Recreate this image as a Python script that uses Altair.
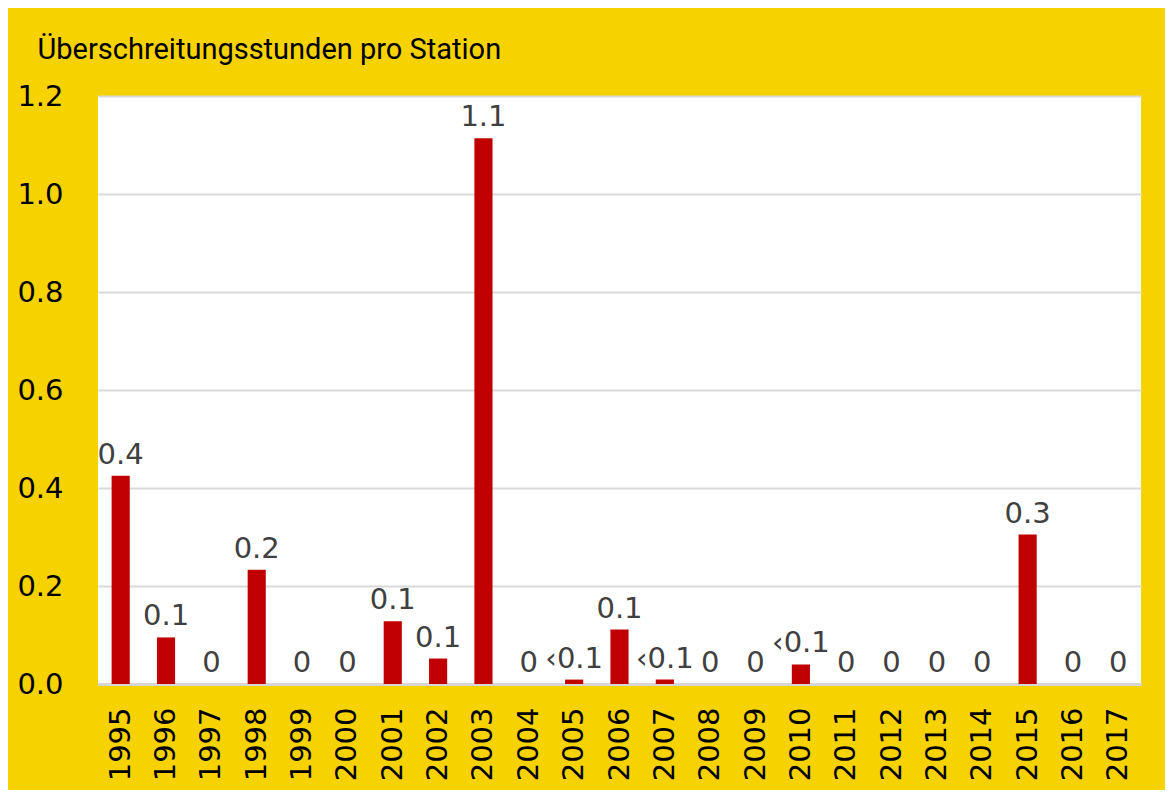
import altair as alt
import pandas as pd

years = [str(y) for y in range(1995, 2018)]
values = [0.425, 0.095, 0.0, 0.233, 0.0, 0.0, 0.128, 0.052, 1.114, 0.0, 0.009,
          0.111, 0.009, 0.0, 0.0, 0.040, 0.0, 0.0, 0.0, 0.0, 0.305, 0.0, 0.0]
labels = ["0.4", "0.1", "0", "0.2", "0", "0", "0.1", "0.1", "1.1", "0", "‹0.1",
          "0.1", "‹0.1", "0", "0", "‹0.1", "0", "0", "0", "0", "0.3", "0", "0"]
y_ticks = [0.0, 0.2, 0.4, 0.6, 0.8, 1.0, 1.2]

df = pd.DataFrame({"Jahr": years, "Wert": values, "Label": labels})

x_enc = alt.X("Jahr:N", sort=years,
              scale=alt.Scale(paddingInner=0.6, paddingOuter=0.3),
              axis=alt.Axis(title=None, labelAngle=270, labelFont="DejaVu Sans",
                            labelFontSize=29, labelColor="#000000", labelPadding=23,
                            ticks=False, domainColor="#d6d6d6", domainWidth=3,
                            labelBaseline="middle"))
y_enc = alt.Y("Wert:Q", scale=alt.Scale(domain=[0, 1.2], nice=False),
              axis=alt.Axis(values=y_ticks, format=".1f",
                            title="Überschreitungsstunden pro Station",
                            titleAngle=0, titleAlign="left", titleBaseline="alphabetic",
                            titleX=-61, titleY=-38, titleFont="Roboto", titleFontSize=29,
                            titleFontWeight="normal", titleColor="#000000",
                            labelFont="DejaVu Sans", labelFontSize=29, labelColor="#000000",
                            labelPadding=35, ticks=False, domain=False,
                            gridColor="#d9d9d9", gridWidth=2))

bars = alt.Chart(df).mark_bar(color="#C00000").encode(x=x_enc, y=y_enc)
text = alt.Chart(df).mark_text(font="DejaVu Sans", fontSize=29, color="#404040",
                               baseline="alphabetic", dy=-12).encode(
    x=alt.X("Jahr:N", sort=years), y=alt.Y("Wert:Q"), text="Label:N")

chart = (bars + text).properties(
    width=1043, height=588,
    background="#F5D200",
    autosize=alt.AutoSizeParams(type="none"),
    padding={"left": 90, "top": 88, "right": 24, "bottom": 106},
).configure_view(fill="white", stroke=None)

chart.save("out.html", embed_options={"renderer": "svg", "actions": False})
